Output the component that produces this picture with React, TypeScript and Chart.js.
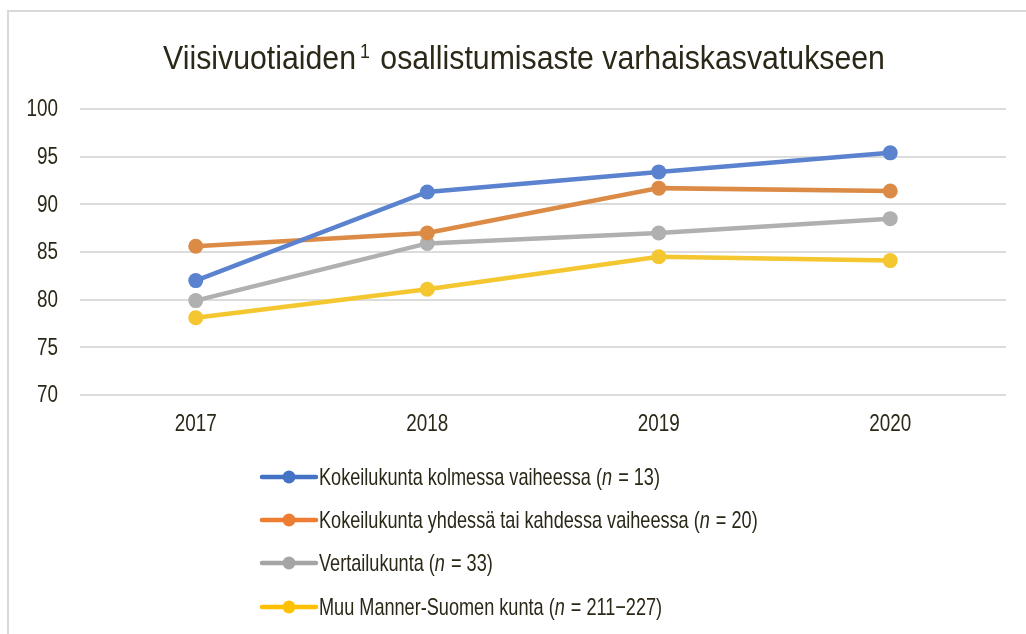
import React, { useEffect, useRef } from "react";
import { Chart, registerables } from "chart.js";

Chart.register(...registerables);

const TITLE_MAIN = "Viisivuotiaiden";
const TITLE_SUP = "1";
const TITLE_REST = " osallistumisaste varhaiskasvatukseen";
const YEARS = ["2017", "2018", "2019", "2020"];
const SERIES_NAMES = [
  "Kokeilukunta kolmessa vaiheessa (n = 13)",
  "Kokeilukunta yhdessä tai kahdessa vaiheessa (n = 20)",
  "Vertailukunta (n = 33)",
  "Muu Manner-Suomen kunta (n = 211\u2212227)",
];
const KOLME = [82.0, 91.3, 93.4, 95.4];
const YKSI_KAKSI = [85.6, 87.0, 91.7, 91.4];
const VERTAILU = [79.9, 85.9, 87.0, 88.5];
const MUU = [78.1, 81.1, 84.5, 84.1];
const Y_MIN = 70;
const Y_MAX = 100;
const Y_STEP = 5;

const LINE_COLORS = ["#5b82cf", "#dc8b47", "#b0b0b0", "#f4c62f"];
const LEGEND_COLORS = ["#4472c4", "#ed7d31", "#a5a5a5", "#ffc000"];
const TEXT = "#2b2818";
const FONT = "'Liberation Sans Narrow', 'Arial Narrow', 'Liberation Sans', Arial, sans-serif";
const NARROW = 0.82;

function narrowText(ctx: any, text: string, x: number, y: number, align: string, scale: number) {
  ctx.save();
  ctx.translate(x, y);
  ctx.scale(scale, 1);
  ctx.textAlign = align;
  ctx.fillText(text, 0, 0);
  ctx.restore();
  return ctx.measureText(text).width * scale;
}

const textPlugin = {
  id: "narrowTexts",
  afterDraw(chart: any) {
    const ctx = chart.ctx;
    ctx.save();
    ctx.fillStyle = TEXT;
    ctx.textBaseline = "middle";

    // title
    const ts = 0.89;
    ctx.font = `34px ${FONT}`;
    const w1 = ctx.measureText(TITLE_MAIN).width * ts;
    const w3 = ctx.measureText(TITLE_REST).width * ts;
    ctx.font = `20px ${FONT}`;
    const w2 = ctx.measureText(TITLE_SUP).width * ts + 6;
    const total = w1 + w2 + w3;
    let tx = 524 - total / 2;
    const ty = 60;
    ctx.font = `34px ${FONT}`;
    narrowText(ctx, TITLE_MAIN, tx, ty, "left", ts);
    tx += w1;
    ctx.font = `20px ${FONT}`;
    narrowText(ctx, TITLE_SUP, tx + 4, ty - 8, "left", ts);
    tx += w2;
    ctx.font = `34px ${FONT}`;
    narrowText(ctx, TITLE_REST, tx, ty, "left", ts);

    // axis tick labels
    ctx.font = `23px ${FONT}`;
    const xs = chart.scales.x;
    xs.ticks.forEach((t: any, i: number) => {
      const px = xs.getPixelForTick(i);
      narrowText(ctx, String(xs.getLabelForValue(t.value)), px, chart.chartArea.bottom + 30, "center", NARROW);
    });
    const ys = chart.scales.y;
    ys.ticks.forEach((t: any) => {
      const py = ys.getPixelForValue(t.value);
      narrowText(ctx, String(t.value), chart.chartArea.left - 22, py + 1, "right", NARROW);
    });

    // legend
    const rows = [477, 520, 563, 607];
    const x0 = 262;
    const x1 = 316;
    chart.data.datasets.forEach((ds: any, i: number) => {
      const y = rows[i];
      const c = LEGEND_COLORS[i];
      ctx.strokeStyle = c;
      ctx.lineWidth = 4.5;
      ctx.lineCap = "round";
      ctx.beginPath();
      ctx.moveTo(x0, y);
      ctx.lineTo(x1, y);
      ctx.stroke();
      ctx.fillStyle = c;
      ctx.beginPath();
      ctx.arc((x0 + x1) / 2, y, 6.5, 0, Math.PI * 2);
      ctx.fill();
      const label: string = ds.label;
      const idx = label.indexOf("(n");
      const parts =
        idx >= 0
          ? [
              { t: label.slice(0, idx + 1), it: false },
              { t: "n", it: true },
              { t: label.slice(idx + 2), it: false },
            ]
          : [{ t: label, it: false }];
      let x = 319;
      ctx.fillStyle = TEXT;
      parts.forEach((p) => {
        ctx.font = `${p.it ? "italic " : ""}24px ${FONT}`;
        x += narrowText(ctx, p.t, x, y + 1, "left", 0.755) + (p.it ? 1 : 0);
      });
    });
    ctx.restore();
  },
};

export default function App() {
  const ref = useRef<HTMLCanvasElement | null>(null);
  useEffect(() => {
    if (!ref.current) return;
    const seriesValues = [KOLME, YKSI_KAKSI, VERTAILU, MUU];
    const chart = new Chart(ref.current, {
      type: "line",
      data: {
        labels: YEARS,
        datasets: seriesValues.map((vals, i) => ({
          label: SERIES_NAMES[i],
          data: vals,
          borderColor: LINE_COLORS[i],
          backgroundColor: LINE_COLORS[i],
          pointBackgroundColor: LINE_COLORS[i],
          pointBorderColor: LINE_COLORS[i],
          borderWidth: 4.5,
          pointRadius: 7.5,
          pointBorderWidth: 0,
          tension: 0,
          fill: false,
        })),
      },
      plugins: [textPlugin],
      options: {
        animation: false,
        responsive: false,
        maintainAspectRatio: false,
        layout: { padding: { left: 0, right: 20, top: 109, bottom: 0 } },
        plugins: {
          legend: { display: false },
          tooltip: { enabled: false },
          title: { display: false },
        },
        scales: {
          x: {
            offset: true,
            grid: { display: false, drawTicks: false },
            border: { display: false },
            ticks: { display: false },
            afterFit: (s: any) => {
              s.height = 239;
            },
          },
          y: {
            min: Y_MIN,
            max: Y_MAX,
            grid: { color: "#dcdcdc", lineWidth: 2, drawTicks: false },
            border: { display: false },
            ticks: { stepSize: Y_STEP, display: false },
            afterFit: (s: any) => {
              s.width = 80;
            },
          },
        },
      },
    });
    return () => chart.destroy();
  }, []);

  return (
    <div
      style={{
        position: "fixed",
        left: 0,
        top: 0,
        width: 1026,
        height: 634,
        overflow: "hidden",
        background: "#fff",
      }}
    >
      <div
        style={{
          position: "absolute",
          left: 7,
          top: 10,
          width: 2000,
          height: 2000,
          borderLeft: "2px solid #d9d9d9",
          borderTop: "2px solid #d9d9d9",
        }}
      />
      <canvas
        ref={ref}
        width={1026}
        height={634}
        style={{ position: "absolute", left: 0, top: 0, width: 1026, height: 634 }}
      />
    </div>
  );
}
